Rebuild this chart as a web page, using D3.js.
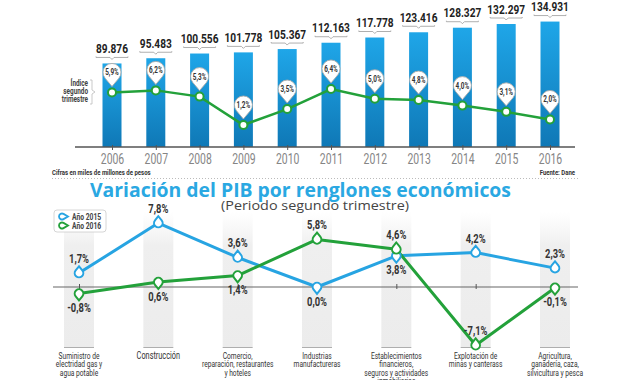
<!DOCTYPE html>
<html>
<head>
<meta charset="utf-8">
<script src="https://cdn.jsdelivr.net/npm/d3@7"></script>
<style>
  body { margin: 0; background: #fff; }
  svg { display: block; }
  .narrow { font-family: Roboto, "Liberation Sans", sans-serif; }
</style>
</head>
<body>
<div id="chart"></div>
<script>
// PIB segundo trimestre (miles de millones de pesos)
var years = ["2006", "2007", "2008", "2009", "2010", "2011", "2012", "2013", "2014", "2015", "2016"];
var pib = [89.876, 95.483, 100.556, 101.778, 105.367, 112.163, 117.778, 123.416, 128.327, 132.297, 134.931];
var indice = [5.9, 6.2, 5.3, 1.2, 3.5, 6.4, 5.0, 4.8, 4.0, 3.1, 2.0];

// variacion por renglones
var sectores = [
  ["Suministro de", "electridad gas y", "agua potable"],
  ["Construcción"],
  ["Comercio,", "reparación, restaurantes", "y hoteles"],
  ["Industrias", "manufactureras"],
  ["Establecimientos", "financieros,", "seguros y actividades", "inmobiliarias"],
  ["Explotación de", "minas y canterass"],
  ["Agricultura,", "ganadería, caza,", "silvicultura y pesca"]
];
var anio2015 = [1.7, 7.8, 3.6, 0.0, 3.8, 4.2, 2.3];
var anio2016 = [-0.8, 0.6, 1.4, 5.8, 4.6, -7.1, -0.1];
var lado2015 = ["up", "up", "up", "down", "down", "up", "up"];
var lado2016 = ["down", "down", "down", "up", "up", "up", "down"];

var width = 640, height = 380;
var blue = "#27a4e2", green = "#23a13a";
var SQ = 0.75; // condensed look

var svg = d3.select("#chart").append("svg")
  .attr("width", width)
  .attr("height", height);

// squeeze text horizontally to imitate a condensed face
function squeeze(sel, s) {
  sel.each(function() {
    var t = d3.select(this);
    var tx = +t.attr("x") || 0, ty = +t.attr("y") || 0;
    t.attr("x", 0).attr("y", 0)
      .attr("transform", "translate(" + tx + "," + ty + ") scale(" + (s || SQ) + ",1)");
  });
}

var defs = svg.append("defs");
var gBar = defs.append("linearGradient").attr("id", "barGrad")
  .attr("x1", 0).attr("y1", 0).attr("x2", 0).attr("y2", 1);
gBar.append("stop").attr("offset", "0%").attr("stop-color", "#1fa6e8");
gBar.append("stop").attr("offset", "100%").attr("stop-color", "#0f78b6");

var gBand = defs.append("linearGradient").attr("id", "bandGrad")
  .attr("x1", 0).attr("y1", 0).attr("x2", 0).attr("y2", 1);
gBand.append("stop").attr("offset", "0%").attr("stop-color", "#f2f2f2").attr("stop-opacity", 0);
gBand.append("stop").attr("offset", "25%").attr("stop-color", "#efefef").attr("stop-opacity", 1);
gBand.append("stop").attr("offset", "100%").attr("stop-color", "#ececec").attr("stop-opacity", 1);

// balloon / teardrop path, tip at distance d from centre in direction ang (radians, 0 = down)
function drop(cx, cy, r, d, ang) {
  var a = Math.acos(r / d);
  var tx = cx + d * Math.sin(ang), ty = cy + d * Math.cos(ang);
  var p1x = cx + r * Math.sin(ang - a), p1y = cy + r * Math.cos(ang - a);
  var p2x = cx + r * Math.sin(ang + a), p2y = cy + r * Math.cos(ang + a);
  return "M" + tx + "," + ty + "L" + p2x + "," + p2y +
    "A" + r + "," + r + " 0 1 0 " + p1x + "," + p1y + "Z";
}

// ---------- TOP: barras PIB ----------
var x = d3.scalePoint().domain(years).range([112, 550]);
var y = d3.scaleLinear().domain([0, 135]).range([147, 21.5]);
var y2 = d3.scaleLinear().domain([0, 6.4]).range([133.3, 89]);
var fmtPib = d3.format(".3f");
var fmtPct = function(v) { return v.toFixed(1).replace(".", ",") + "%"; };

var gTop = svg.append("g");

gTop.selectAll(".bar")
  .data(pib)
  .enter().append("rect")
    .attr("x", function(d, i) { return x(years[i]) - 9.5; })
    .attr("y", function(d) { return y(d); })
    .attr("width", 19)
    .attr("height", function(d) { return y(0) - y(d); })
    .attr("fill", "url(#barGrad)");

// brackets + values
gTop.selectAll(".brk")
  .data(pib)
  .enter().append("path")
    .attr("d", function(d, i) {
      var cx = x(years[i]), yy = y(d) - 6;
      return "M" + (cx - 16) + "," + (yy - 1) + "L" + (cx - 16) + "," + yy + "L" + (cx - 2) + "," + yy +
        "L" + cx + "," + (yy + 2) + "L" + (cx + 2) + "," + yy + "L" + (cx + 16) + "," + yy + "L" + (cx + 16) + "," + (yy - 1);
    })
    .attr("fill", "none").attr("stroke", "#9a9a9a").attr("stroke-width", 0.8);

gTop.selectAll(".val")
  .data(pib)
  .enter().append("text")
    .attr("class", "narrow")
    .attr("x", function(d, i) { return x(years[i]); })
    .attr("y", function(d) { return y(d) - 10.5; })
    .attr("text-anchor", "middle")
    .attr("font-size", 13.5).attr("font-weight", "bold").attr("fill", "#222")
    .text(function(d) { return fmtPib(d); })
    .call(squeeze);

// axis
gTop.append("line")
  .attr("x1", 75).attr("x2", 575).attr("y1", y(0)).attr("y2", y(0))
  .attr("stroke", "#555").attr("stroke-width", 1.3);

var xAxis = gTop.append("g")
  .attr("transform", "translate(0," + y(0) + ")")
  .call(d3.axisBottom(x).tickSize(3).tickPadding(3.5));
xAxis.select(".domain").remove();
xAxis.selectAll("line").attr("stroke", "#555").attr("y1", -2);
xAxis.selectAll("text")
  .attr("class", "narrow")
  .attr("font-size", 14.5).attr("fill", "#858585")
  .call(squeeze, 0.72);

// green index line
gTop.append("path")
  .datum(indice)
  .attr("fill", "none").attr("stroke", green).attr("stroke-width", 2.5)
  .attr("d", d3.line()
    .x(function(d, i) { return x(years[i]); })
    .y(function(d) { return y2(d); }));

gTop.selectAll(".pt")
  .data(indice)
  .enter().append("circle")
    .attr("cx", function(d, i) { return x(years[i]); })
    .attr("cy", function(d) { return y2(d); })
    .attr("r", 4)
    .attr("fill", "#fff").attr("stroke", green).attr("stroke-width", 2);

gTop.selectAll(".balloon")
  .data(indice)
  .enter().append("path")
    .attr("d", function(d, i) { return drop(x(years[i]), y2(d) - 20, 9, 14, 0); })
    .attr("fill", "#fff").attr("stroke", "#aaa").attr("stroke-width", 0.9);

gTop.selectAll(".bl")
  .data(indice)
  .enter().append("text")
    .attr("class", "narrow")
    .attr("x", function(d, i) { return x(years[i]); })
    .attr("y", function(d) { return y2(d) - 17; })
    .attr("text-anchor", "middle")
    .attr("font-size", 8.5).attr("font-weight", "bold").attr("fill", "#333")
    .text(function(d) { return fmtPct(d); })
    .call(squeeze);

// index label
var idx = gTop.append("g").attr("class", "narrow")
  .attr("font-size", 8.5).attr("font-weight", "bold").attr("fill", "#444").attr("text-anchor", "end");
["Índice", "segundo", "trimestre"].forEach(function(t, i) {
  idx.append("text").attr("x", 88).attr("y", 86 + i * 8).text(t).call(squeeze);
});
gTop.append("path")
  .attr("d", "M90,80L92,80L92,90L95,92L92,94L92,104L90,104")
  .attr("fill", "none").attr("stroke", "#bbb").attr("stroke-width", 0.8);

gTop.append("text").attr("class", "narrow")
  .attr("x", 52).attr("y", 175)
  .attr("font-size", 8).attr("font-weight", "bold").attr("fill", "#333")
  .text("Cifras en miles de millones de pesos")
  .call(squeeze);
gTop.append("text").attr("class", "narrow")
  .attr("x", 575).attr("y", 175).attr("text-anchor", "end")
  .attr("font-size", 8).attr("font-weight", "bold").attr("fill", "#333")
  .text("Fuente: Dane")
  .call(squeeze);
gTop.append("line")
  .attr("x1", 52).attr("x2", 578).attr("y1", 178.5).attr("y2", 178.5)
  .attr("stroke", "#bbb").attr("stroke-dasharray", "1,2");

// ---------- BOTTOM: variacion ----------
var gBot = svg.append("g");

gBot.append("text")
  .attr("x", 90).attr("y", 197)
  .attr("font-family", "'Open Sans', Lato, sans-serif")
  .attr("font-size", 19).attr("font-weight", "bold").attr("fill", "#2aa8e2")
  .attr("textLength", 421).attr("lengthAdjust", "spacingAndGlyphs")
  .text("Variación del PIB por renglones económicos");
gBot.append("text")
  .attr("x", 221).attr("y", 210)
  .attr("font-family", "'Open Sans', Lato, sans-serif")
  .attr("font-size", 13).attr("fill", "#444")
  .attr("textLength", 188).attr("lengthAdjust", "spacingAndGlyphs")
  .text("(Periodo segundo trimestre)");

var xs = d3.scalePoint().domain(d3.range(sectores.length)).range([79, 555]);
var ys = d3.scaleLinear().domain([-8, 8]).range([352.6, 221.4]);

gBot.selectAll(".band")
  .data(sectores)
  .enter().append("rect")
    .attr("x", function(d, i) { return xs(i) - 15; })
    .attr("y", 212)
    .attr("width", 30)
    .attr("height", 135)
    .attr("fill", "url(#bandGrad)");
gBot.selectAll(".bandline")
  .data(sectores)
  .enter().append("line")
    .attr("x1", function(d, i) { return xs(i) - 15; })
    .attr("x2", function(d, i) { return xs(i) + 15; })
    .attr("y1", 347.5).attr("y2", 347.5)
    .attr("stroke", "#999").attr("stroke-width", 0.8);

// zero line
gBot.append("line")
  .attr("x1", 53).attr("x2", 578).attr("y1", ys(0)).attr("y2", ys(0))
  .attr("stroke", "#666").attr("stroke-width", 1.2);
var zAxis = gBot.append("g")
  .attr("transform", "translate(0," + ys(0) + ")")
  .call(d3.axisBottom(xs).tickSize(2).tickFormat(""));
zAxis.select(".domain").remove();
zAxis.selectAll("line").attr("stroke", "#555").attr("y1", -3);

// category labels
sectores.forEach(function(lines, i) {
  lines.forEach(function(t, j) {
    gBot.append("text").attr("class", "narrow")
      .attr("x", xs(i)).attr("y", 358.5 + j * 8.6)
      .attr("text-anchor", "middle")
      .attr("font-size", i === 1 ? 10.5 : 9.5).attr("fill", "#333")
      .text(t)
      .call(squeeze, 0.7);
  });
});

var line = d3.line()
  .x(function(d, i) { return xs(i); })
  .y(function(d) { return ys(d); });

var series = [
  { vals: anio2015, side: lado2015, color: blue },
  { vals: anio2016, side: lado2016, color: green }
];

series.forEach(function(s) {
  gBot.append("path").datum(s.vals)
    .attr("fill", "none").attr("stroke", s.color).attr("stroke-width", 3)
    .attr("stroke-linejoin", "round")
    .attr("d", line);
});

series.forEach(function(s) {
  gBot.selectAll(null)
    .data(s.vals)
    .enter().append("path")
      .attr("d", function(d, i) {
        return drop(xs(i), ys(d), 4.3, 6.8, s.side[i] === "up" ? Math.PI : 0);
      })
      .attr("fill", "#fff").attr("stroke", s.color).attr("stroke-width", 2);
  gBot.selectAll(null)
    .data(s.vals)
    .enter().append("text")
      .attr("class", "narrow")
      .attr("x", function(d, i) { return xs(i); })
      .attr("y", function(d, i) { return s.side[i] === "up" ? ys(d) - 10 : ys(d) + 18.5; })
      .attr("text-anchor", "middle")
      .attr("font-size", 12.5).attr("font-weight", "bold").attr("fill", "#333")
      .text(function(d) { return fmtPct(d); })
      .call(squeeze);
});

// legend
var leg = gBot.append("g");
leg.append("rect")
  .attr("x", 54).attr("y", 210).attr("width", 52).attr("height", 22).attr("rx", 3)
  .attr("fill", "#fff").attr("stroke", "#ccc").attr("stroke-width", 0.8);
[["Año 2015", blue], ["Año 2016", green]].forEach(function(it, i) {
  var cy = 216.5 + i * 9;
  leg.append("path")
    .attr("d", drop(62, cy, 3, 6, Math.PI / 2))
    .attr("fill", "#fff").attr("stroke", it[1]).attr("stroke-width", 1.8);
  leg.append("text").attr("class", "narrow")
    .attr("x", 72).attr("y", cy + 3)
    .attr("font-size", 9).attr("font-weight", "bold").attr("fill", "#444")
    .text(it[0])
    .call(squeeze);
});
</script>
</body>
</html>
